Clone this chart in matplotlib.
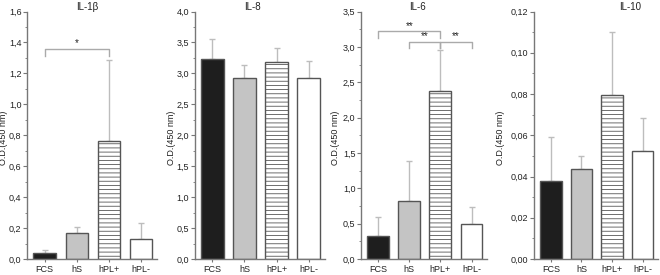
import matplotlib.pyplot as plt
from matplotlib.ticker import MultipleLocator, FuncFormatter

plt.rcParams['font.family'] = ['Liberation Sans', 'DejaVu Sans']
plt.rcParams['hatch.color'] = '#d2d2d2'
plt.rcParams['hatch.linewidth'] = 0.6

# data
groups = ["FCS", "hS", "hPL+", "hPL-"]
titles = ["IL-1β", "IL-8", "IL-6", "IL-10"]

il1b_mean = [0.04, 0.17, 0.76, 0.13]
il1b_err = [0.02, 0.04, 0.53, 0.10]
il8_mean = [3.23, 2.92, 3.18, 2.93]
il8_err = [0.32, 0.22, 0.23, 0.27]
il6_mean = [0.33, 0.82, 2.38, 0.50]
il6_err = [0.27, 0.57, 0.58, 0.23]
il10_mean = [0.038, 0.0435, 0.0795, 0.0525]
il10_err = [0.021, 0.0065, 0.0305, 0.016]

means = [il1b_mean, il8_mean, il6_mean, il10_mean]
errs = [il1b_err, il8_err, il6_err, il10_err]
ymax = [1.6, 4.0, 3.5, 0.12]
ystep = [0.2, 0.5, 0.5, 0.02]
ydec = [1, 1, 1, 2]

# significance brackets: (panel, x1, x2, height, drop, label)
brackets = [
    (0, 1, 3, 1.36, 0.05, "*"),
    (2, 1, 3, 3.22, 0.10, "**"),
    (2, 2, 3, 3.07, 0.09, "**"),
    (2, 3, 4, 3.07, 0.09, "**"),
]

face = ["#1e1e1e", "#c4c4c4", "white", "white"]
hatches = [None, None, "----", None]

fig = plt.figure(figsize=(6.6, 2.75), dpi=100)
lefts = [0.041, 0.295, 0.547, 0.809]
rights = [0.238, 0.492, 0.738, 0.997]
title_x = [87, 252, 418, 630]
ylab_x = [4, 171, 336, 501]

axes = []
for i in range(4):
    ax = fig.add_axes([lefts[i], 0.058, rights[i] - lefts[i], 0.9])
    axes.append(ax)
    x = [1, 2, 3, 4]
    ax.bar(x, means[i], width=0.7, color=face, edgecolor="#555555",
           linewidth=1.0, hatch=hatches, zorder=2)
    ax.errorbar(x, means[i], yerr=[[0] * 4, errs[i]], fmt="none",
                ecolor="#bdbdbd", elinewidth=1.0, capsize=2.5, capthick=1.0,
                zorder=1)
    ax.set_xlim(0.45, 4.5)
    ax.set_ylim(0, ymax[i])
    ax.set_xticks(x)
    ax.set_xticklabels(groups)
    ax.yaxis.set_major_locator(MultipleLocator(ystep[i]))
    ax.yaxis.set_minor_locator(MultipleLocator(ystep[i] / 2))
    d = ydec[i]
    ax.yaxis.set_major_formatter(
        FuncFormatter(lambda v, p, d=d: f"{v:.{d}f}".replace(".", ",")))
    for s in ["top", "right"]:
        ax.spines[s].set_visible(False)
    for s in ["left", "bottom"]:
        ax.spines[s].set_color("#777777")
        ax.spines[s].set_linewidth(1.0)
    ax.tick_params(axis="both", which="both", direction="out",
                   color="#777777", labelsize=6.5, labelcolor="#222222", pad=1)
    ax.tick_params(axis="y", which="major", length=3)
    ax.tick_params(axis="y", which="minor", length=1.8)
    ax.tick_params(axis="x", length=2, pad=2)
    fig.text(title_x[i] / 660, 1 - 7 / 275, titles[i], ha="center",
             va="center", fontsize=7, color="#222222")
    fig.text(ylab_x[i] / 660, 0.5, "O.D.(450 nm)", rotation=90,
             ha="center", va="center", fontsize=6.5, color="#222222")

for p, x1, x2, h, drop, lab in brackets:
    ax = axes[p]
    ax.plot([x1, x1, x2, x2], [h - drop, h, h, h - drop], color="#aaaaaa",
            lw=1.0, zorder=3, clip_on=False)
    ax.text((x1 + x2) / 2, h + drop * 0.1, lab, ha="center", va="bottom",
            fontsize=7, color="#222222")

plt.savefig("out.png", dpi=100)
plt.close()
